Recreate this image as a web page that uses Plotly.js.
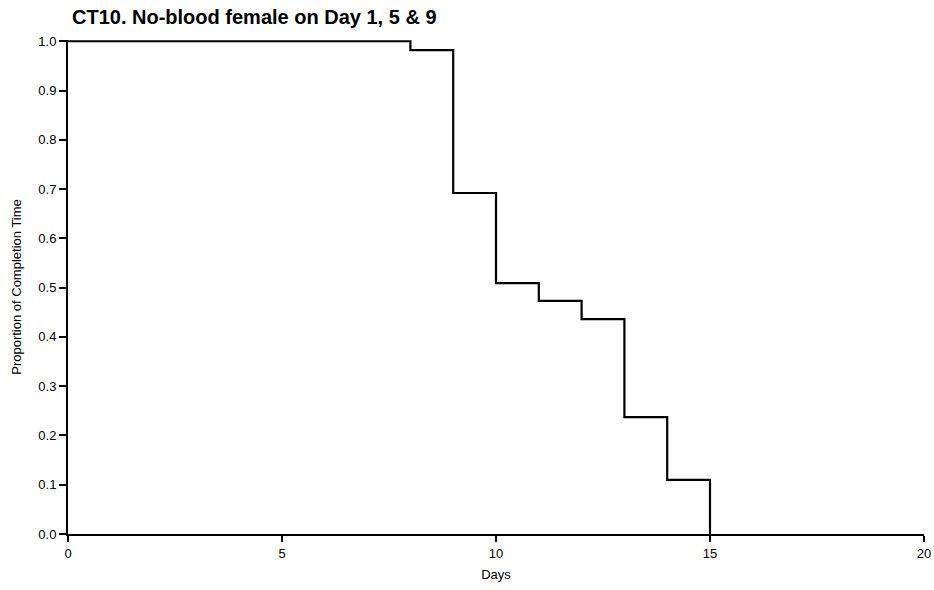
<!DOCTYPE html>
<html>
<head>
<script src="https://cdn.plot.ly/plotly-3.0.1.min.js"></script>
<style>html,body{margin:0;padding:0;background:#fff;}#chart{width:934px;height:590px;}</style>
</head>
<body>
<div id="chart"></div>
<script>
const days = [0, 8, 9, 10, 11, 12, 13, 14, 15];
const proportion = [1.0, 0.982, 0.692, 0.509, 0.473, 0.436, 0.237, 0.110, 0.0];
const xTicks = [0, 5, 10, 15, 20];
const yTicks = [0, 0.1, 0.2, 0.3, 0.4, 0.5, 0.6, 0.7, 0.8, 0.9, 1.0];

const trace = {
  x: days, y: proportion, type: 'scatter', mode: 'lines',
  line: {shape: 'hv', color: '#000', width: 2.2},
  cliponaxis: false, hoverinfo: 'skip', showlegend: false
};
const ff = 'Liberation Sans, Arial, sans-serif';
const layout = {
  width: 934, height: 590,
  margin: {l: 68, r: 10, t: 40, b: 56},
  paper_bgcolor: '#fff', plot_bgcolor: '#fff',
  font: {family: ff, color: '#000'},
  title: {text: '<b>CT10. No-blood female on Day 1, 5 & 9</b>', font: {family: ff, size: 20, color: '#000'},
          x: 72/934, xanchor: 'left', xref: 'container', y: 1 - 17/590, yanchor: 'middle', yref: 'container'},
  xaxis: {range: [0, 20], tickvals: xTicks, ticktext: xTicks.map(String), ticks: 'outside', ticklen: 6, tickwidth: 2,
          tickcolor: '#000', showline: true, linecolor: '#000', linewidth: 2, showgrid: false, zeroline: false,
          tickfont: {size: 13, color: '#000', family: ff},
          title: {text: 'Days', font: {size: 13, color: '#000', family: ff}, standoff: 10}},
  yaxis: {range: [0, 1.0025], tickvals: yTicks, tickformat: '.1f', ticks: 'outside', ticklen: 7, tickwidth: 2,
          tickcolor: '#000', showline: true, linecolor: '#000', linewidth: 2, showgrid: false, zeroline: false,
          tickfont: {size: 13, color: '#000', family: ff},
          title: {text: 'Proportion of Completion Time', font: {size: 13, color: '#000', family: ff}, standoff: 14}}
};
Plotly.newPlot('chart', [trace], layout, {staticPlot: true});
</script>
</body>
</html>
